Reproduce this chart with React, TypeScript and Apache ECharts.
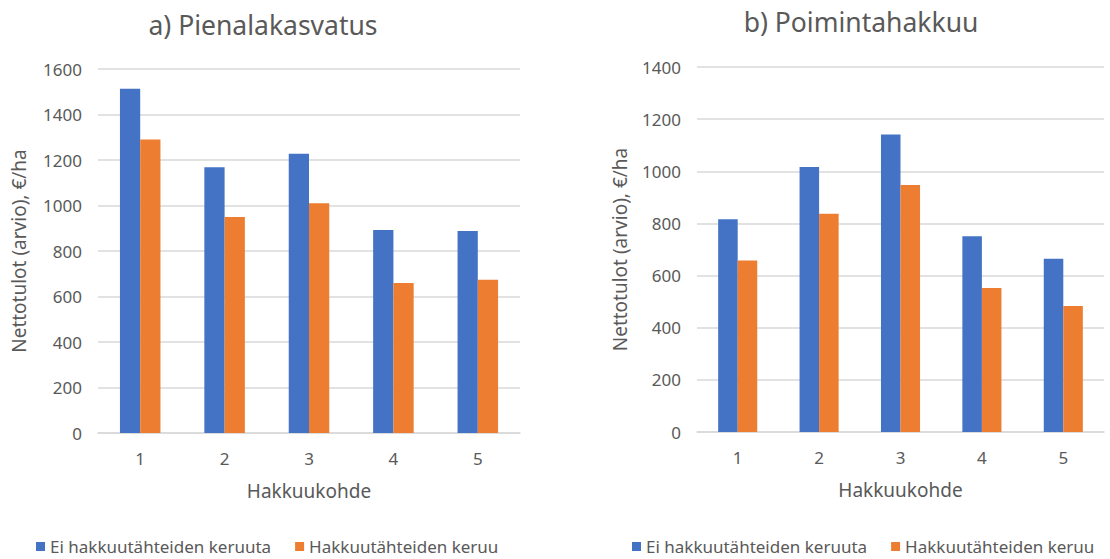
import React, { useEffect, useRef } from "react";
import * as echarts from "echarts";

const categories = ["1", "2", "3", "4", "5"];
const seriesNames = ["Ei hakkuutähteiden keruuta", "Hakkuutähteiden keruu"];
const pienNoCollect = [1513, 1168, 1228, 892, 888];
const pienCollect = [1290, 950, 1010, 659, 674];
const poimNoCollect = [816, 1016, 1141, 751, 665];
const poimCollect = [658, 837, 947, 552, 483];
const titles = ["a) Pienalakasvatus", "b) Poimintahakkuu"];
const yName = "Nettotulot (arvio), €/ha";
const xName = "Hakkuukohde";

const BLUE = "#4472c4";
const ORANGE = "#ed7d31";
const TXT = "#595959";
const FONT = "'Noto Sans', 'Open Sans', sans-serif";

export default function App() {
  const ref = useRef<HTMLDivElement>(null);
  useEffect(() => {
    if (!ref.current) return;
    const chart = echarts.init(ref.current, undefined, { renderer: "svg" });
    const grids = [
      { left: 98, right: 590, top: 69, bottom: 126 },
      { left: 697, right: 6, top: 67, bottom: 127 },
    ];
    const xAxis = [0, 1].map((i) => ({
      type: "category",
      gridIndex: i,
      data: categories,
      name: xName,
      nameLocation: "middle",
      nameGap: 48,
      nameTextStyle: { color: TXT, fontSize: 19, fontFamily: FONT },
      axisLine: { show: true, lineStyle: { color: "#d9d9d9", width: 1.5 } },
      axisTick: { show: false },
      axisLabel: { color: TXT, fontSize: 17, fontFamily: FONT, margin: 17 },
    }));
    const yAxis = [
      { max: 1600, gap: 70 },
      { max: 1400, gap: 68 },
    ].map((c, i) => ({
      type: "value",
      gridIndex: i,
      min: 0,
      max: c.max,
      interval: 200,
      name: yName,
      nameLocation: "middle",
      nameGap: c.gap,
      nameTextStyle: { color: TXT, fontSize: 19, fontFamily: FONT },
      axisLine: { show: false },
      axisTick: { show: false },
      axisLabel: {
        color: TXT,
        fontSize: 17,
        fontFamily: FONT,
        margin: 16,
        formatter: (v: number) => String(v),
      },
      splitLine: { lineStyle: { color: "#d9d9d9", width: 1.5 } },
    }));
    const mk = (name: string, data: number[], idx: number, color: string) => ({
      type: "bar",
      name,
      data,
      xAxisIndex: idx,
      yAxisIndex: idx,
      itemStyle: { color },
      barGap: "0%",
      barCategoryGap: "52%",
    });
    const legendBase = {
      data: seriesNames,
      top: 538,
      padding: 0,
      itemWidth: 9,
      itemHeight: 9,
      itemGap: 24,
      icon: "rect",
      textStyle: { color: TXT, fontSize: 17, fontFamily: FONT },
    };
    chart.setOption({
      animation: false,
      backgroundColor: "#ffffff",
      title: [
        {
          text: titles[0],
          left: 258,
          top: 6,
          textAlign: "center",
          textStyle: { color: TXT, fontSize: 26.5, fontWeight: "normal", fontFamily: FONT },
        },
        {
          text: titles[1],
          left: 856,
          top: 3,
          textAlign: "center",
          textStyle: { color: TXT, fontSize: 26.5, fontWeight: "normal", fontFamily: FONT },
        },
      ],
      legend: [
        { ...legendBase, left: 36 },
        { ...legendBase, left: 632 },
      ],
      grid: grids,
      xAxis,
      yAxis,
      series: [
        mk(seriesNames[0], pienNoCollect, 0, BLUE),
        mk(seriesNames[1], pienCollect, 0, ORANGE),
        mk(seriesNames[0], poimNoCollect, 1, BLUE),
        mk(seriesNames[1], poimCollect, 1, ORANGE),
      ],
    });
    return () => chart.dispose();
  }, []);
  return (
    <div
      ref={ref}
      style={{ position: "fixed", left: 0, top: 0, width: 1110, height: 559, background: "#fff" }}
    />
  );
}
